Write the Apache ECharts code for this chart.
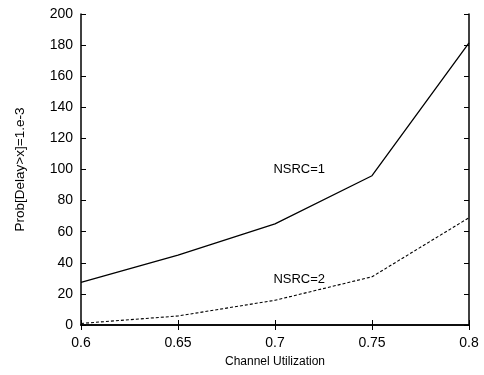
<!DOCTYPE html>
<html>
<head>
<meta charset="utf-8">
<script src="https://cdn.jsdelivr.net/npm/echarts@6/dist/echarts.min.js"></script>
<style>
  html, body { margin: 0; padding: 0; background: #fff; }
  #chart { width: 484px; height: 375px; }
</style>
</head>
<body>
<div id="chart"></div>
<script>
const utilization = [0.6, 0.65, 0.7, 0.75, 0.8];
const nsrc1 = [27.4, 45, 65, 96, 181.5];
const nsrc2 = [1, 5.8, 15.9, 31, 69];
const xTicks = ["0.6", "0.65", "0.7", "0.75", "0.8"];

const font = "Liberation Sans, Arial, sans-serif";

const chart = echarts.init(document.getElementById("chart"));

const boxAxis = {
  axisLine: { show: true, lineStyle: { color: "#000", width: 1.5 } },
  axisTick: { show: true, inside: true, length: 5, lineStyle: { color: "#000" } },
  splitLine: { show: false },
};

chart.setOption({
  animation: false,
  grid: { left: 81, right: 15, top: 14, bottom: 50 },
  xAxis: [
    {
      type: "value",
      min: 0.6,
      max: 0.8,
      interval: 0.05,
      name: "Channel Utilization",
      nameLocation: "middle",
      nameGap: 31,
      nameTextStyle: { color: "#000", fontSize: 12, fontFamily: font },
      axisLabel: {
        color: "#000",
        fontSize: 14,
        fontFamily: font,
        margin: 11,
        formatter: (v) => xTicks[Math.round((v - 0.6) / 0.05)],
      },
      ...boxAxis,
    },
    {
      type: "value",
      position: "top",
      min: 0.6,
      max: 0.8,
      interval: 0.05,
      axisLabel: { show: false },
      ...boxAxis,
    },
  ],
  yAxis: [
    {
      type: "value",
      min: 0,
      max: 200,
      interval: 20,
      name: "Prob[Delay>x]=1.e-3",
      nameLocation: "middle",
      nameGap: 54,
      nameTextStyle: { color: "#000", fontSize: 13.5, fontFamily: font },
      axisLabel: { color: "#000", fontSize: 14, fontFamily: font, margin: 8 },
      ...boxAxis,
    },
    {
      type: "value",
      position: "right",
      min: 0,
      max: 200,
      interval: 20,
      axisLabel: { show: false },
      ...boxAxis,
    },
  ],
  series: [
    {
      name: "NSRC=1",
      type: "line",
      data: utilization.map((x, i) => [x, nsrc1[i]]),
      showSymbol: false,
      lineStyle: { color: "#000", width: 1.3 },
      markPoint: {
        symbolSize: 0,
        label: { show: true, formatter: "NSRC=1", color: "#000", fontSize: 13, fontFamily: font },
        data: [{ coord: [0.7125, 100] }],
      },
    },
    {
      name: "NSRC=2",
      type: "line",
      data: utilization.map((x, i) => [x, nsrc2[i]]),
      showSymbol: false,
      lineStyle: { color: "#000", width: 1.1, type: [3, 2] },
      markPoint: {
        symbolSize: 0,
        label: { show: true, formatter: "NSRC=2", color: "#000", fontSize: 13, fontFamily: font },
        data: [{ coord: [0.7125, 29.5] }],
      },
    },
  ],
});
</script>
</body>
</html>
